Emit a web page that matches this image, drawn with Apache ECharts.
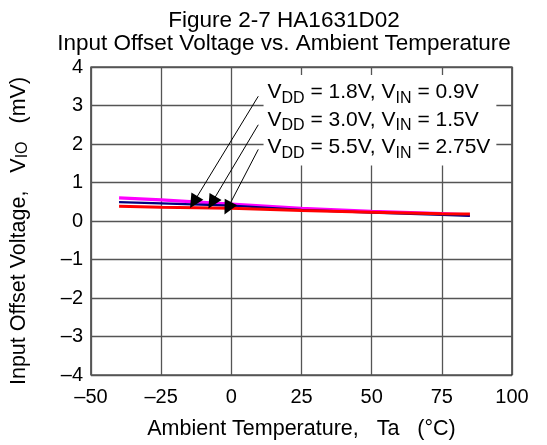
<!DOCTYPE html>
<html>
<head>
<meta charset="utf-8">
<script src="https://cdn.jsdelivr.net/npm/echarts@6/dist/echarts.min.js"></script>
<style>html,body{margin:0;padding:0;background:#fff;}#c{width:547px;height:445px;}</style>
</head>
<body>
<div id="c"></div>
<script>
// ---- data ----
const temps = [-40, -25, 0, 25, 50, 75, 85];
const vio18 = [0.60, 0.55, 0.44, 0.33, 0.25, 0.19, 0.16]; // VDD=1.8V (magenta)
const vio30 = [0.49, 0.46, 0.40, 0.29, 0.22, 0.16, 0.13]; // VDD=3.0V (navy)
const vio55 = [0.38, 0.36, 0.33, 0.27, 0.23, 0.19, 0.18]; // VDD=5.5V (red)
const seriesNames = ['VDD=1.8V, VIN=0.9V', 'VDD=3.0V, VIN=1.5V', 'VDD=5.5V, VIN=2.75V'];
const vddLabels = ['1.8V', '3.0V', '5.5V'];
const vinLabels = ['0.9V', '1.5V', '2.75V'];
const xTicks = ['\u201350', '\u201325', '0', '25', '50', '75', '100'];
const yTicks = ['\u20134', '\u20133', '\u20132', '\u20131', '0', '1', '2', '3', '4'];
// arrow start (text side) and end (curve side) in data units
const arrowFrom = [[9.6, 3.24], [9.6, 2.50], [9.6, 1.86]];
const arrowTo = [[-13.4, 0.49], [-6.9, 0.48], [-1.3, 0.33]];
const annotationAnchor = [11.3, 2.62];

const FONT = 'Liberation Sans, Arial, sans-serif';
const chart = echarts.init(document.getElementById('c'), null, {renderer: 'canvas'});

function pairs(ys) { return temps.map((t, i) => [t, ys[i]]); }

const annText = vddLabels.map((v, i) =>
  '{v|V}{s|DD}{v| = ' + v + ', V}{s|IN}{v| = ' + vinLabels[i] + '}').join('\n');

const option = {
  animation: false,
  backgroundColor: '#fff',
  title: {
    text: 'Figure 2-7 HA1631D02\nInput Offset Voltage vs. Ambient Temperature',
    left: 284,
    textAlign: 'center',
    top: 9,
    padding: 0,
    textStyle: {fontFamily: FONT, fontSize: 22.5, fontWeight: 'normal', color: '#000', lineHeight: 23}
  },
  grid: {left: 88, right: 35, top: 67, bottom: 69, show: true, borderColor: '#000', borderWidth: 1.2, backgroundColor: 'transparent'},
  xAxis: {
    type: 'value', min: -50, max: 100, interval: 25,
    name: 'Ambient Temperature,   Ta   (\u00b0C)',
    nameLocation: 'middle', nameGap: 43,
    nameTextStyle: {fontFamily: FONT, fontSize: 21.5, color: '#000'},
    axisLine: {show: false}, axisTick: {show: false},
    axisLabel: {fontFamily: FONT, fontSize: 20, color: '#000', margin: 12,
      formatter: v => xTicks[Math.round((v + 50) / 25)]},
    splitLine: {show: true, lineStyle: {color: '#555', width: 1.3}}
  },
  yAxis: {
    type: 'value', min: -4, max: 4, interval: 1,
    name: '{n|Input Offset Voltage,   V}{s|IO}{n|   (mV)}',
    nameLocation: 'middle', nameGap: 60, nameRotate: 90,
    nameTextStyle: {fontFamily: FONT, fontSize: 21.5, color: '#000', padding: [0, 20, 0, 0],
      rich: {n: {fontFamily: FONT, fontSize: 21.5, color: '#000', lineHeight: 24},
             s: {fontFamily: FONT, fontSize: 16, color: '#000', lineHeight: 10, verticalAlign: 'bottom'}}},
    axisLine: {show: false}, axisTick: {show: false},
    axisLabel: {fontFamily: FONT, fontSize: 20, color: '#000', margin: 8,
      formatter: v => yTicks[Math.round(v + 4)]},
    splitLine: {show: true, lineStyle: {color: '#555', width: 1.3}}
  },
  series: [
    {name: seriesNames[0], type: 'line', data: pairs(vio18), showSymbol: false, z: 2,
      lineStyle: {color: '#ff00ff', width: 3.2}},
    {name: seriesNames[1], type: 'line', data: pairs(vio30), showSymbol: false, z: 3,
      lineStyle: {color: '#000080', width: 2.2}},
    {name: seriesNames[2], type: 'line', data: pairs(vio55), showSymbol: false, z: 4,
      lineStyle: {color: '#ff0000', width: 3}},
    {name: 'annotation', type: 'line', data: [], z: 5,
      markLine: {
        silent: true, animation: false,
        symbol: ['none', 'triangle'], symbolSize: 14,
        lineStyle: {color: '#000', width: 1, type: 'solid'},
        itemStyle: {color: '#000'},
        label: {show: false},
        data: arrowFrom.map((f, i) => [{coord: f}, {coord: arrowTo[i]}])
      },
      markPoint: {
        silent: true, animation: false,
        symbol: 'rect', symbolSize: 1, itemStyle: {color: 'rgba(0,0,0,0)'},
        data: [{coord: annotationAnchor}],
        label: {
          show: true, position: 'right', distance: 0,
          backgroundColor: '#fff', padding: [4, 6, 4, 4],
          formatter: annText,
          rich: {
            v: {fontFamily: FONT, fontSize: 21, color: '#000', lineHeight: 27.5},
            s: {fontFamily: FONT, fontSize: 16, color: '#000', lineHeight: 12, verticalAlign: 'bottom'}
          }
        }
      }
    }
  ]
};
chart.setOption(option);
</script>
</body>
</html>
